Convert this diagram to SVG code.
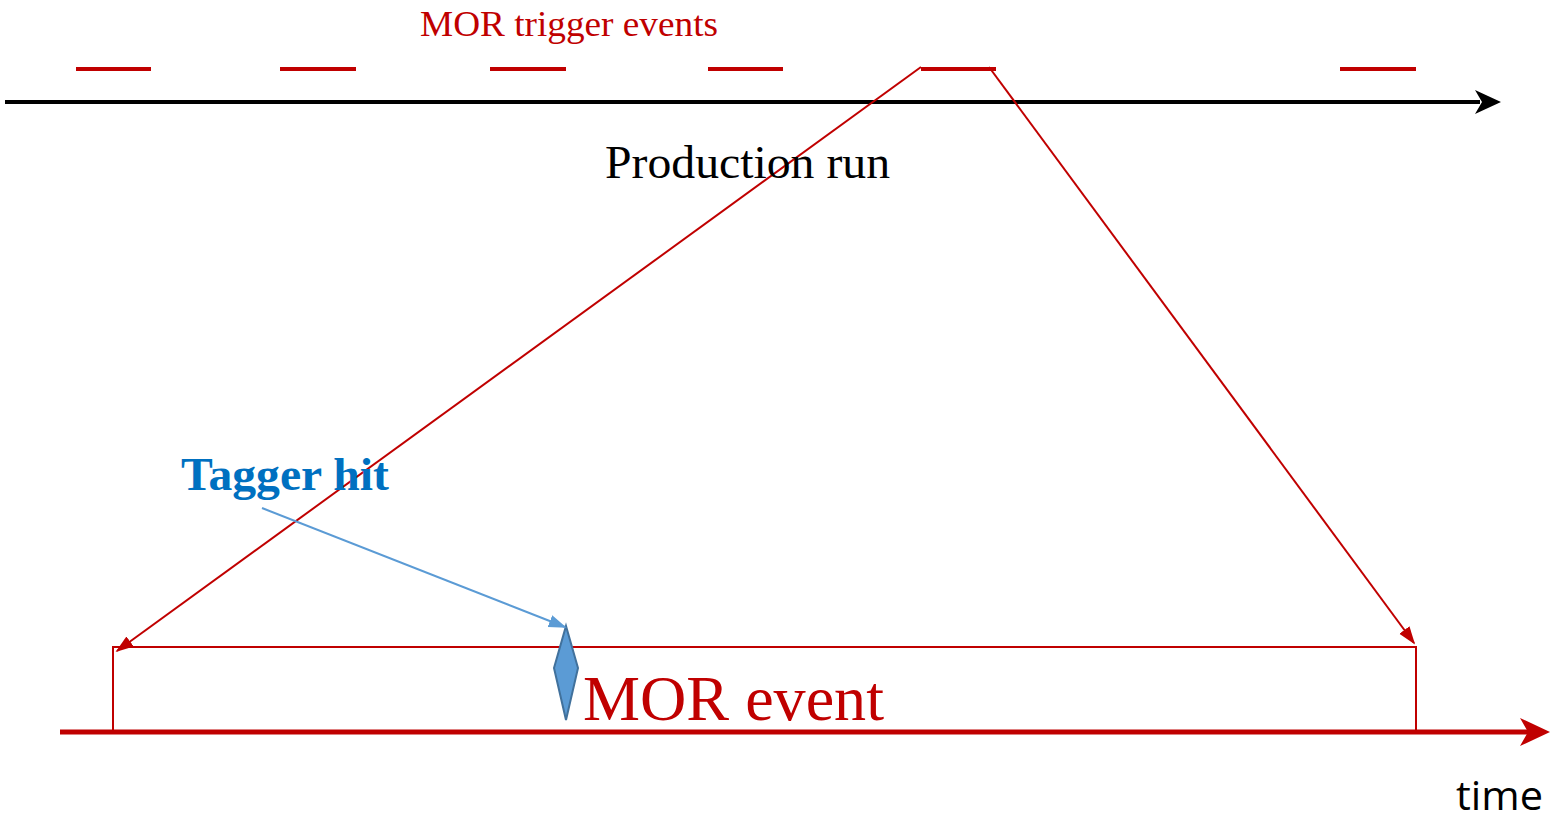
<svg xmlns="http://www.w3.org/2000/svg" width="1550" height="822" viewBox="0 0 1550 822">
<style>
.red{stroke:#C00000;fill:none}
.serif{font-family:"Liberation Serif","Times New Roman",serif}
</style>
<defs>
<marker id="ah-red-s" viewBox="0 0 10 10" refX="9" refY="5" markerWidth="18" markerHeight="18" markerUnits="userSpaceOnUse" orient="auto">
<path d="M0,1.5 L10,5 L0,8.5 Z" fill="#C00000"/>
</marker>
<marker id="ah-blue" viewBox="0 0 10 10" refX="9" refY="5" markerWidth="18" markerHeight="18" markerUnits="userSpaceOnUse" orient="auto">
<path d="M0,1.5 L10,5 L0,8.5 Z" fill="#5B9BD5"/>
</marker>
</defs>
<rect width="1550" height="822" fill="#fff"/>

<g id="production-axis">
<line x1="5" y1="102" x2="1480" y2="102" stroke="#000" stroke-width="4"/>
<path d="M1475,90 L1501,102 L1475,114 L1482,102 Z" fill="#000"/>
</g>

<g id="trigger-events" stroke="#C00000" stroke-width="4">
<line x1="76" y1="69" x2="151" y2="69"/>
<line x1="280" y1="69" x2="356" y2="69"/>
<line x1="490" y1="69" x2="566" y2="69"/>
<line x1="708" y1="69" x2="783" y2="69"/>
<line x1="921" y1="69" x2="996" y2="69"/>
<line x1="1340" y1="69" x2="1416" y2="69"/>
</g>

<g id="time-axis">
<line x1="60" y1="732" x2="1528" y2="732" stroke="#C00000" stroke-width="5"/>
<path d="M1520,718 L1550,732 L1520,746 L1528,732 Z" fill="#C00000"/>
</g>

<g id="mor-event-window">
<polyline class="red" stroke-width="2" points="113,732 113,647 1416,647 1416,732"/>
</g>

<g id="tagger-mark">
<polygon points="566,626 578,668 566,720 554,668" fill="#5B9BD5" stroke="#41719C" stroke-width="2"/>
</g>

<g id="connectors">
<line class="red" stroke-width="2" x1="921" y1="67" x2="117" y2="651" marker-end="url(#ah-red-s)"/>
<line class="red" stroke-width="2" x1="989" y1="67" x2="1414" y2="643" marker-end="url(#ah-red-s)"/>
<line x1="262" y1="508" x2="565" y2="627" stroke="#5B9BD5" stroke-width="2" marker-end="url(#ah-blue)"/>
</g>

<g id="labels">
<text class="serif" x="420" y="36" font-size="35" fill="#C00000" textLength="298" lengthAdjust="spacingAndGlyphs">MOR trigger events</text>
<text class="serif" x="605" y="178" font-size="47" fill="#000" textLength="285" lengthAdjust="spacingAndGlyphs">Production run</text>
<text class="serif" x="181" y="490" font-size="46" font-weight="bold" fill="#0070C0" textLength="208" lengthAdjust="spacingAndGlyphs">Tagger hit</text>
<text class="serif" x="583" y="720" font-size="64" fill="#C00000" textLength="301" lengthAdjust="spacingAndGlyphs">MOR event</text>
<text x="1456" y="810" font-family="'Open Sans','Liberation Sans',sans-serif" font-size="40" fill="#000" textLength="87" lengthAdjust="spacingAndGlyphs">time</text>
</g>
</svg>
